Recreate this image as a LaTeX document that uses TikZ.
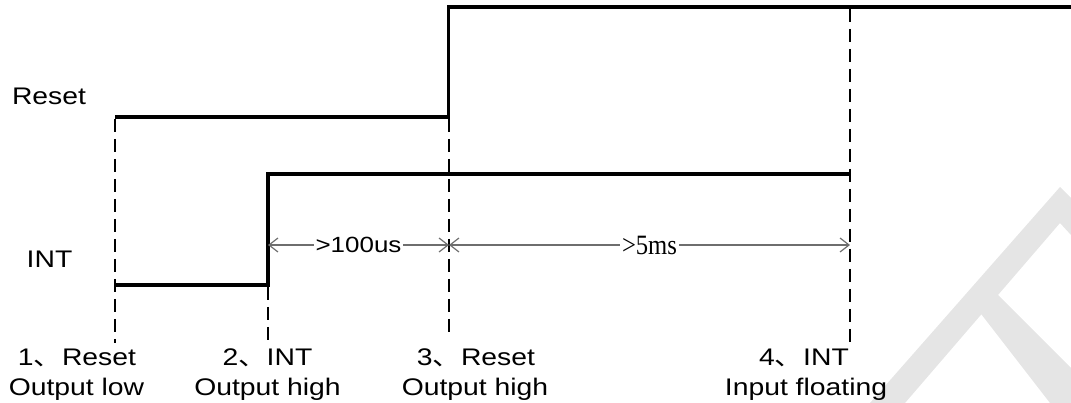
\documentclass[tikz,border=0pt]{standalone}
\usepackage{fontspec}
\setmainfont{Liberation Sans}[FakeStretch=1.18]
\newfontfamily\cjk{Noto Sans CJK SC}[FakeStretch=1.18]
\newfontfamily\dimserif{Liberation Serif}[FakeStretch=0.88]
\usetikzlibrary{arrows.meta}
\definecolor{dimgray}{RGB}{110,110,110}
\definecolor{wmgray}{RGB}{229,229,229}
\begin{document}
\begin{tikzpicture}[x=1pt,y=-1pt,
  signal/.style={line width=3.5pt, line join=miter},
  guide/.style={line width=2.3pt, dash pattern=on 13pt off 7pt},
  dimline/.style={draw=dimgray, line width=1.2pt,
    {Straight Barb[length=9pt,width=14pt]}-{Straight Barb[length=9pt,width=14pt]}},
  lbl/.style={font=\fontsize{24}{28}\selectfont, inner sep=0pt, anchor=base},
  dimtxt/.style={fill=white, inner xsep=2pt, inner ysep=1pt, text=black},
  wm/.style={fill=wmgray, draw=none}]
\useasboundingbox (0,0) rectangle (1071,403);
% watermark
\begin{scope}
  \clip (0,0) rectangle (1071,403);
  \path[wm] (870,403) -- (1060,187) -- (1071,198) -- (1071,235) -- (1060,223) -- (905,403) -- cycle;
  \path[wm] (995,292) -- (1071,368) -- (1071,403) -- (1050,403) -- (978,310) -- cycle;
\end{scope}
% coordinates
\coordinate (r0) at (115,117);
\coordinate (r1) at (448.5,117);
\coordinate (r2) at (448.5,7);
\coordinate (r3) at (1071,7);
\coordinate (i0) at (115,285);
\coordinate (i1) at (268,285);
\coordinate (i2) at (268,174);
\coordinate (i3) at (850,174);
\coordinate (g1a) at (115,119);   \coordinate (g1b) at (115,343);
\coordinate (g2a) at (268,287);   \coordinate (g2b) at (268,343);
\coordinate (g3a) at (449,119);   \coordinate (g3b) at (449,338);
\coordinate (g4a) at (850,9);     \coordinate (g4b) at (850,343);
\coordinate (d1) at (268,245);
\coordinate (d2) at (449,245);
\coordinate (d3) at (850,245);
% guides
\draw[guide] (g1a) -- (g1b);
\draw[guide] (g2a) -- (g2b);
\draw[guide] (g3a) -- (g3b);
\draw[guide] (g4a) -- (g4b);
% signals
\draw[signal] (r0) -- (r1) -- (r2) -- (r3);
\draw[signal] (i0) -- (i1) -- (i2) -- (i3);
% dimensions
\draw[dimline] (d1) -- node[dimtxt, font=\fontsize{22}{26}\selectfont] (t100) {>100us} (d2);
\draw[dimline] (d2) -- node[dimtxt, font=\fontsize{28}{30}\dimserif] (t5) {>5ms} (d3);
% labels
\node[lbl] (resetlbl) at (49,105) {Reset};
\node[lbl] (intlbl) at (49.5,268) {INT};
\node[lbl] (l1a) at (77,366) {1{\cjk 、}Reset};
\node[lbl] (l1b) at (76.5,395) {Output low};
\node[lbl] (l2a) at (267.5,366) {2{\cjk 、}INT};
\node[lbl] (l2b) at (267.5,395) {Output high};
\node[lbl] (l3a) at (476,366) {3{\cjk 、}Reset};
\node[lbl] (l3b) at (475,395) {Output high};
\node[lbl] (l4a) at (804,366) {4{\cjk 、}INT};
\node[lbl] (l4b) at (806,395) {Input floating};
\end{tikzpicture}
\end{document}
